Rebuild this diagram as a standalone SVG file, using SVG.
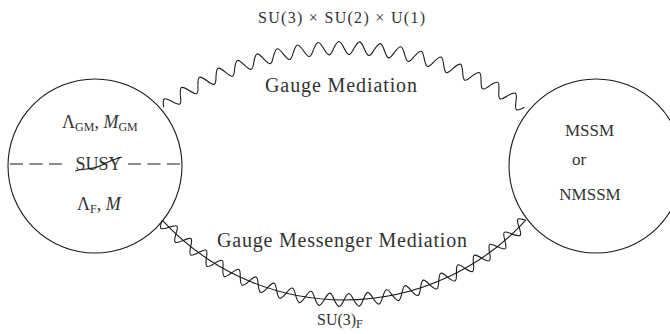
<svg xmlns="http://www.w3.org/2000/svg" xmlns:xlink="http://www.w3.org/1999/xlink" width="670" height="334" viewBox="0 0 670 334">
<style>
  .ln { fill: none; stroke: #1a1a1a; stroke-width: 1.1; }
  .t { font-family: "Liberation Serif", "DejaVu Serif", serif; fill: #333333; }
  .lg { font-size: 20px; text-anchor: middle; }
  .md { font-size: 16px; text-anchor: middle; }
  .nd { font-size: 18px; }
  .sub { font-size: 12px; }
</style>
<defs>
  <path id="wt" class="ln" d="M333.842,48 c4.307,-8.67 5.851,-8.67 10.158,0 c4.307,8.67 5.851,8.67 10.158,0"/>
  <path id="wb" class="ln" d="M334.269,300 c4.126,8.67 5.605,8.67 9.731,0 c4.126,-8.67 5.605,-8.67 9.731,0"/>
</defs>
<rect width="670" height="334" fill="#ffffff"/>

<g id="connectors">
  <g id="gauge-mediation">
    <use xlink:href="#wt" transform="rotate(-34.579 344 351)"/>
    <use xlink:href="#wt" transform="rotate(-30.737 344 351)"/>
    <use xlink:href="#wt" transform="rotate(-26.895 344 351)"/>
    <use xlink:href="#wt" transform="rotate(-23.053 344 351)"/>
    <use xlink:href="#wt" transform="rotate(-19.211 344 351)"/>
    <use xlink:href="#wt" transform="rotate(-15.368 344 351)"/>
    <use xlink:href="#wt" transform="rotate(-11.526 344 351)"/>
    <use xlink:href="#wt" transform="rotate(-7.684 344 351)"/>
    <use xlink:href="#wt" transform="rotate(-3.842 344 351)"/>
    <use xlink:href="#wt"/>
    <use xlink:href="#wt" transform="rotate(3.842 344 351)"/>
    <use xlink:href="#wt" transform="rotate(7.684 344 351)"/>
    <use xlink:href="#wt" transform="rotate(11.526 344 351)"/>
    <use xlink:href="#wt" transform="rotate(15.368 344 351)"/>
    <use xlink:href="#wt" transform="rotate(19.211 344 351)"/>
    <use xlink:href="#wt" transform="rotate(23.053 344 351)"/>
    <use xlink:href="#wt" transform="rotate(26.895 344 351)"/>
    <use xlink:href="#wt" transform="rotate(30.737 344 351)"/>
    <use xlink:href="#wt" transform="rotate(34.579 344 351)"/>
  </g>
  <g id="gauge-messenger-mediation">
    <path class="ln" d="M162.2,220.2 A247,247 0 0 0 525.8,220.2"/>
    <use xlink:href="#wb" transform="rotate(45.143 344 53)"/>
    <use xlink:href="#wb" transform="rotate(40.629 344 53)"/>
    <use xlink:href="#wb" transform="rotate(36.114 344 53)"/>
    <use xlink:href="#wb" transform="rotate(31.600 344 53)"/>
    <use xlink:href="#wb" transform="rotate(27.086 344 53)"/>
    <use xlink:href="#wb" transform="rotate(22.571 344 53)"/>
    <use xlink:href="#wb" transform="rotate(18.057 344 53)"/>
    <use xlink:href="#wb" transform="rotate(13.543 344 53)"/>
    <use xlink:href="#wb" transform="rotate(9.029 344 53)"/>
    <use xlink:href="#wb" transform="rotate(4.514 344 53)"/>
    <use xlink:href="#wb"/>
    <use xlink:href="#wb" transform="rotate(-4.514 344 53)"/>
    <use xlink:href="#wb" transform="rotate(-9.029 344 53)"/>
    <use xlink:href="#wb" transform="rotate(-13.543 344 53)"/>
    <use xlink:href="#wb" transform="rotate(-18.057 344 53)"/>
    <use xlink:href="#wb" transform="rotate(-22.571 344 53)"/>
    <use xlink:href="#wb" transform="rotate(-27.086 344 53)"/>
    <use xlink:href="#wb" transform="rotate(-31.600 344 53)"/>
    <use xlink:href="#wb" transform="rotate(-36.114 344 53)"/>
    <use xlink:href="#wb" transform="rotate(-40.629 344 53)"/>
    <use xlink:href="#wb" transform="rotate(-45.143 344 53)"/>
  </g>
  <text class="t md" x="341.5" y="23" textLength="167" lengthAdjust="spacing">SU(3) × SU(2) × U(1)</text>
  <text class="t lg" x="341" y="92" textLength="152" lengthAdjust="spacing">Gauge Mediation</text>
  <text class="t lg" x="342" y="247" textLength="250" lengthAdjust="spacing">Gauge Messenger Mediation</text>
  <text class="t" x="317" y="325" font-size="16">SU(3)<tspan class="sub" dy="3">F</tspan></text>
</g>

<g id="hidden-sector">
  <circle class="ln" cx="95" cy="166" r="87"/>
  <line class="ln" x1="10" y1="164" x2="62" y2="164" stroke-dasharray="13 6.5"/>
  <line class="ln" x1="128" y1="164" x2="180" y2="164" stroke-dasharray="13 6.5"/>
  <text class="t nd" x="62" y="128">Λ<tspan class="sub" dy="3">GM</tspan><tspan dy="-3">, </tspan><tspan font-style="italic">M</tspan><tspan class="sub" dy="3">GM</tspan></text>
  <text class="t nd" x="98.5" y="170" text-anchor="middle">SUSY</text>
  <path class="ln" d="M75,171 C85,168 93,170 102,165 S115,159 122,157" stroke-width="1"/>
  <text class="t nd" x="77" y="210">Λ<tspan class="sub" dy="3">F</tspan><tspan dy="-3">, </tspan><tspan font-style="italic">M</tspan></text>
</g>

<g id="visible-sector">
  <circle class="ln" cx="596" cy="166" r="87"/>
  <text class="t" x="589.5" y="136" font-size="17" text-anchor="middle">MSSM</text>
  <text class="t" x="579" y="165" font-size="17" text-anchor="middle">or</text>
  <text class="t" x="590" y="200" font-size="17" text-anchor="middle">NMSSM</text>
</g>
</svg>
